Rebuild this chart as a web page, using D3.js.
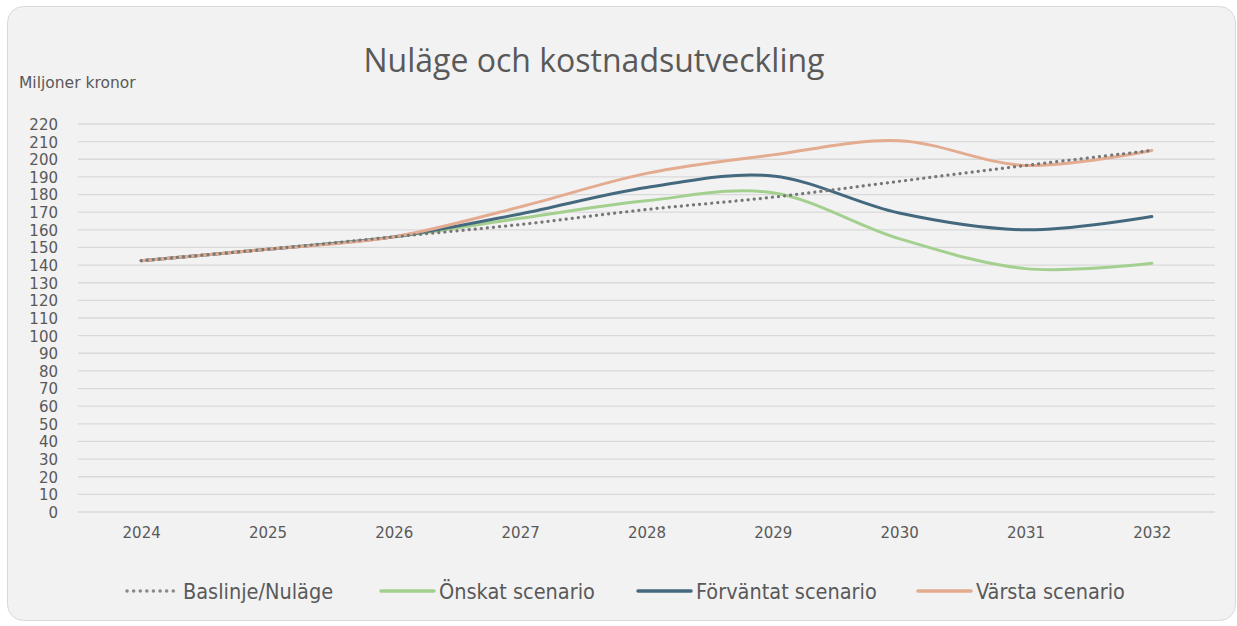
<!DOCTYPE html>
<html>
<head>
<meta charset="utf-8">
<script src="https://cdn.jsdelivr.net/npm/d3@7"></script>
<style>
  body { margin: 0; background: #ffffff; }
  svg text { font-family: "Open Sans", "Noto Sans", sans-serif; fill: #595959; }
  .legend text { font-family: "Liberation Sans Narrow", "DejaVu Sans Condensed", "Roboto", sans-serif; }
</style>
</head>
<body>
<div id="chart"></div>
<script>
var w = 1237;
var h = 626;

// data
var years = ["2024", "2025", "2026", "2027", "2028", "2029", "2030", "2031", "2032"];
var baslinje = [142.5, 149, 156, 163, 171.5, 178.5, 187.5, 196.5, 205];
var onskat = [142.5, 149, 156, 166.5, 176.5, 181, 155, 138, 141];
var forvantat = [142.5, 149, 156, 169, 184, 190.5, 169.5, 160, 167.5];
var varsta = [142.5, 149, 156, 173, 192, 202.5, 210.5, 196.5, 205];
var yTicks = [0, 10, 20, 30, 40, 50, 60, 70, 80, 90, 100, 110, 120, 130, 140, 150, 160, 170, 180, 190, 200, 210, 220];

var seriesNames = ["Baslinje/Nuläge", "Önskat scenario", "Förväntat scenario", "Värsta scenario"];
var seriesColors = ["#808080", "#a4d08f", "#44697f", "#e3ab8f"];
var seriesData = [baslinje, onskat, forvantat, varsta];

var svg = d3.select("#chart")
    .append("svg")
    .attr("width", w)
    .attr("height", h);

// card background
svg.append("rect")
    .attr("x", 7.5).attr("y", 6.5)
    .attr("width", 1228).attr("height", 614)
    .attr("rx", 16)
    .attr("fill", "#f2f2f2")
    .attr("stroke", "#d9d9d9");

var x = d3.scalePoint()
    .domain(years)
    .range([78, 1215])
    .padding(0.5);

var y = d3.scaleLinear()
    .domain([0, 220])
    .range([512, 124]);

//gridlines
svg.append("g")
    .selectAll("line")
    .data(yTicks)
    .enter()
    .append("line")
    .attr("x1", 78).attr("x2", 1215)
    .attr("y1", function (d) { return y(d); })
    .attr("y2", function (d) { return y(d); })
    .attr("stroke", "#d9d9d9")
    .attr("stroke-width", 1.3);

//y axis, labels only
var yAxis = svg.append("g")
    .attr("transform", "translate(58,0)")
    .call(d3.axisLeft(y).tickValues(yTicks).tickSize(0).tickPadding(0));
yAxis.select(".domain").remove();
yAxis.selectAll("text")
    .attr("font-size", 15)
    .attr("dy", "0.36em");

//x axis, labels only
var xAxis = svg.append("g")
    .attr("transform", "translate(0,527)")
    .call(d3.axisBottom(x).tickSize(0).tickPadding(0));
xAxis.select(".domain").remove();
xAxis.selectAll("text")
    .attr("font-size", 15)
    .attr("dy", "0.7em");

svg.selectAll(".tick text")
    .style("font-family", "'DejaVu Sans', sans-serif")
    .style("fill", "#595959");

//lines
var line = d3.line()
    .x(function (d, i) { return x(years[i]); })
    .y(function (d) { return y(d); })
    .curve(d3.curveCardinal.tension(0));

// draw scenarios first, baseline dotted on top
var order = [1, 2, 3, 0];
order.forEach(function (k) {
    var p = svg.append("path")
        .datum(seriesData[k])
        .attr("d", line)
        .attr("fill", "none")
        .attr("stroke", seriesColors[k])
        .attr("stroke-width", 3)
        .attr("stroke-linecap", "round");
    if (k === 0) {
        p.attr("stroke-dasharray", "0.1 6")
            .attr("stroke-width", 3.2)
            .attr("stroke", "#777777");
    }
});

//title
svg.append("text")
    .attr("x", 594).attr("y", 72)
    .attr("text-anchor", "middle")
    .attr("font-size", 32)
    .text("Nuläge och kostnadsutveckling");

svg.append("text")
    .attr("x", 19).attr("y", 88)
    .attr("font-size", 15.5)
    .style("font-family", "'DejaVu Sans', sans-serif")
    .text("Miljoner kronor");

//legend
var legendX = [125, 381, 638, 918];
var legend = svg.append("g").attr("class", "legend");
seriesNames.forEach(function (name, i) {
    var g = legend.append("g").attr("transform", "translate(" + legendX[i] + ",591)");
    var l = g.append("line")
        .attr("x1", 0).attr("x2", 53)
        .attr("y1", 0).attr("y2", 0)
        .attr("stroke", seriesColors[i])
        .attr("stroke-width", 3.5)
        .attr("stroke-linecap", "round");
    if (i === 0) {
        l.attr("stroke-dasharray", "0.1 6.5").attr("x1", 2).attr("stroke", "#8a8a8a");
    }
    g.append("text")
        .attr("x", 58).attr("y", 0)
        .attr("dy", "0.35em")
        .attr("font-size", 21.5)
        .text(name);
});
</script>
</body>
</html>
